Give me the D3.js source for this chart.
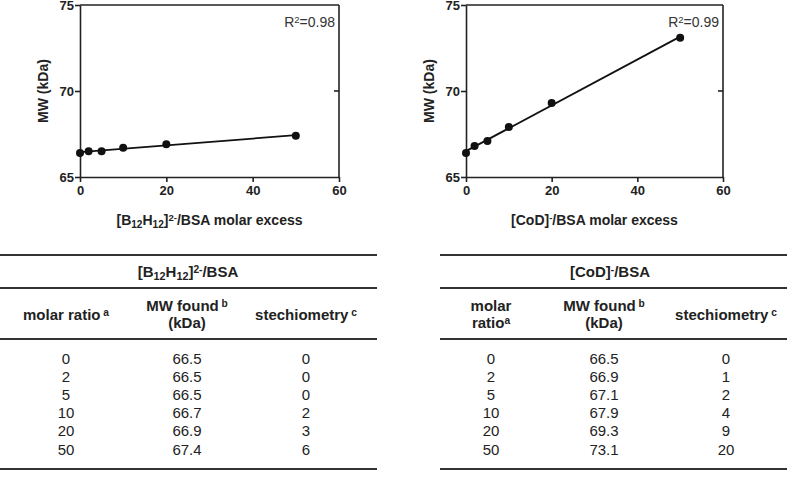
<!DOCTYPE html>
<html><head><meta charset="utf-8">
<script src="https://cdn.jsdelivr.net/npm/d3@7/dist/d3.min.js"></script>
<style>body{margin:0;background:#fff;} text{font-family:"Liberation Sans",Arial,sans-serif;}</style>
</head><body><svg id="c" width="787" height="488"></svg>
<script>
// ---- data ----
const molarExcess = [0, 2, 5, 10, 20, 50];
const mwB12H12 = [66.4, 66.5, 66.5, 66.7, 66.9, 67.4];
const mwCoD = [66.4, 66.8, 67.1, 67.9, 69.3, 73.1];
const r2Labels = ["0.98", "0.99"];
const xTicks = [0, 20, 40, 60];
const yTicks = [65, 70, 75];
const tableRatio = ["0", "2", "5", "10", "20", "50"];
const tableMwB = ["66.5", "66.5", "66.5", "66.7", "66.9", "67.4"];
const tableStB = ["0", "0", "0", "2", "3", "6"];
const tableMwC = ["66.5", "66.9", "67.1", "67.9", "69.3", "73.1"];
const tableStC = ["0", "1", "2", "4", "9", "20"];

const svg = d3.select("#c");

function fit(xs, ys) {
  const n = xs.length, mx = d3.mean(xs), my = d3.mean(ys);
  let sxy = 0, sxx = 0;
  for (let i = 0; i < n; i++) { sxy += (xs[i]-mx)*(ys[i]-my); sxx += (xs[i]-mx)**2; }
  const b = sxy / sxx; return {a: my - b*mx, b};
}

function addRich(sel, parts, size) {
  parts.forEach(([t, type]) => {
    const ts = sel.append("tspan").text(t);
    if (type === "sub") ts.attr("font-size", size*0.72).attr("baseline-shift", "-25%");
    else if (type === "sup") ts.attr("font-size", size*0.68).attr("baseline-shift", "45%");
  });
}

function chart(x0, x1, ys, r2, titleParts, ylabX) {
  const g = svg.append("g");
  const x = d3.scaleLinear().domain([0, 60]).range([x0, x1]);
  const y = d3.scaleLinear().domain([65, 75]).range([177, 5]);
  const ax = g.append("g").attr("transform", "translate(0,177)")
    .call(d3.axisBottom(x).tickValues(xTicks).tickSize(5).tickPadding(4).tickSizeOuter(0));
  const ay = g.append("g").attr("transform", `translate(${x0},0)`)
    .call(d3.axisLeft(y).tickValues(yTicks).tickSize(5).tickPadding(1).tickSizeOuter(0));
  [ax, ay].forEach(a => {
    a.select(".domain").attr("stroke", "#222").attr("stroke-width", 1.6);
    a.selectAll(".tick line").attr("stroke", "#222").attr("stroke-width", 1.6);
    a.selectAll("text").attr("font-size", 13).attr("font-weight", "bold").attr("fill", "#222")
      .attr("font-family", '"Liberation Sans",Arial,sans-serif');
  });
  g.append("line").attr("x1", x0).attr("x2", x1).attr("y1", y(75)).attr("y2", y(75)).attr("stroke", "#222").attr("stroke-width", 1.6);
  g.append("line").attr("x1", x1).attr("x2", x1).attr("y1", y(75)).attr("y2", y(65)).attr("stroke", "#222").attr("stroke-width", 1.6);
  g.append("line").attr("x1", x1 - 5).attr("x2", x1).attr("y1", y(70)).attr("y2", y(70)).attr("stroke", "#222").attr("stroke-width", 1.6);
  const f = fit(molarExcess, ys);
  g.append("line").attr("x1", x(0)).attr("x2", x(50)).attr("y1", y(f.a)).attr("y2", y(f.a + f.b*50))
    .attr("stroke", "#111").attr("stroke-width", 1.8);
  g.selectAll("circle.p").data(molarExcess).join("circle").attr("class", "p")
    .attr("cx", d => x(d)).attr("cy", (d, i) => y(ys[i])).attr("r", 4).attr("fill", "#111");
  const rt = g.append("text").attr("x", x1 - 4).attr("y", 27).attr("text-anchor", "end").attr("font-size", 14).attr("fill", "#333");
  addRich(rt, [["R", "n"], ["2", "sup"], ["=" + r2, "n"]], 14);
  g.append("text").attr("transform", `translate(${ylabX},91) rotate(-90)`).attr("text-anchor", "middle")
    .attr("font-size", 14).attr("font-weight", "bold").attr("fill", "#222").text("MW (kDa)");
  const xt = g.append("text").attr("x", (x0 + x1)/2).attr("y", 225).attr("text-anchor", "middle")
    .attr("font-size", 14).attr("font-weight", "bold").attr("fill", "#222");
  addRich(xt, titleParts, 14);
}

chart(80, 339, mwB12H12, r2Labels[0], [["[B", "n"], ["12", "sub"], ["H", "n"], ["12", "sub"], ["]", "n"], ["2-", "sup"], ["/BSA molar excess", "n"]], 48);
chart(466, 723, mwCoD, r2Labels[1], [["[CoD]", "n"], ["-", "sup"], ["/BSA molar excess", "n"]], 434);

function table(lx0, lx1, cx, titleX, titleParts, twoLineRatio, mw, st) {
  const g = svg.append("g");
  [255, 288, 339, 469].forEach(yy => g.append("line").attr("x1", lx0).attr("x2", lx1).attr("y1", yy).attr("y2", yy)
    .attr("stroke", "#333").attr("stroke-width", 1.8));
  const tt = g.append("text").attr("x", titleX).attr("y", 277).attr("text-anchor", "middle").attr("font-size", 15).attr("font-weight", "bold").attr("fill", "#222");
  addRich(tt, titleParts, 15);
  const hdr = (xx, yy, parts) => {
    const t = g.append("text").attr("x", xx).attr("y", yy).attr("text-anchor", "middle").attr("font-size", 15).attr("font-weight", "bold").attr("fill", "#222");
    addRich(t, parts, 15);
  };
  if (twoLineRatio) { hdr(cx[0], 311, [["molar", "n"]]); hdr(cx[0], 328, [["ratio", "n"], ["a", "sup"]]); }
  else hdr(cx[0], 320, [["molar ratio", "n"], [" a", "sup"]]);
  hdr(cx[1], 311, [["MW found", "n"], [" b", "sup"]]);
  hdr(cx[1], 328, [["(kDa)", "n"]]);
  hdr(cx[2], 320, [["stechiometry", "n"], [" c", "sup"]]);
  const cols = [tableRatio, mw, st];
  cols.forEach((col, ci) => {
    g.selectAll(null).data(col).join("text").attr("x", cx[ci]).attr("y", (d, i) => 364 + i*18.1)
      .attr("text-anchor", "middle").attr("font-size", 15).attr("fill", "#222").text(d => d);
  });
}
table(0, 377, [66, 187, 306], 188, [["[B", "n"], ["12", "sub"], ["H", "n"], ["12", "sub"], ["]", "n"], ["2-", "sup"], ["/BSA", "n"]], false, tableMwB, tableStB);
table(440, 787, [491, 604, 726], 610, [["[CoD]", "n"], ["-", "sup"], ["/BSA", "n"]], true, tableMwC, tableStC);
</script></body></html>
